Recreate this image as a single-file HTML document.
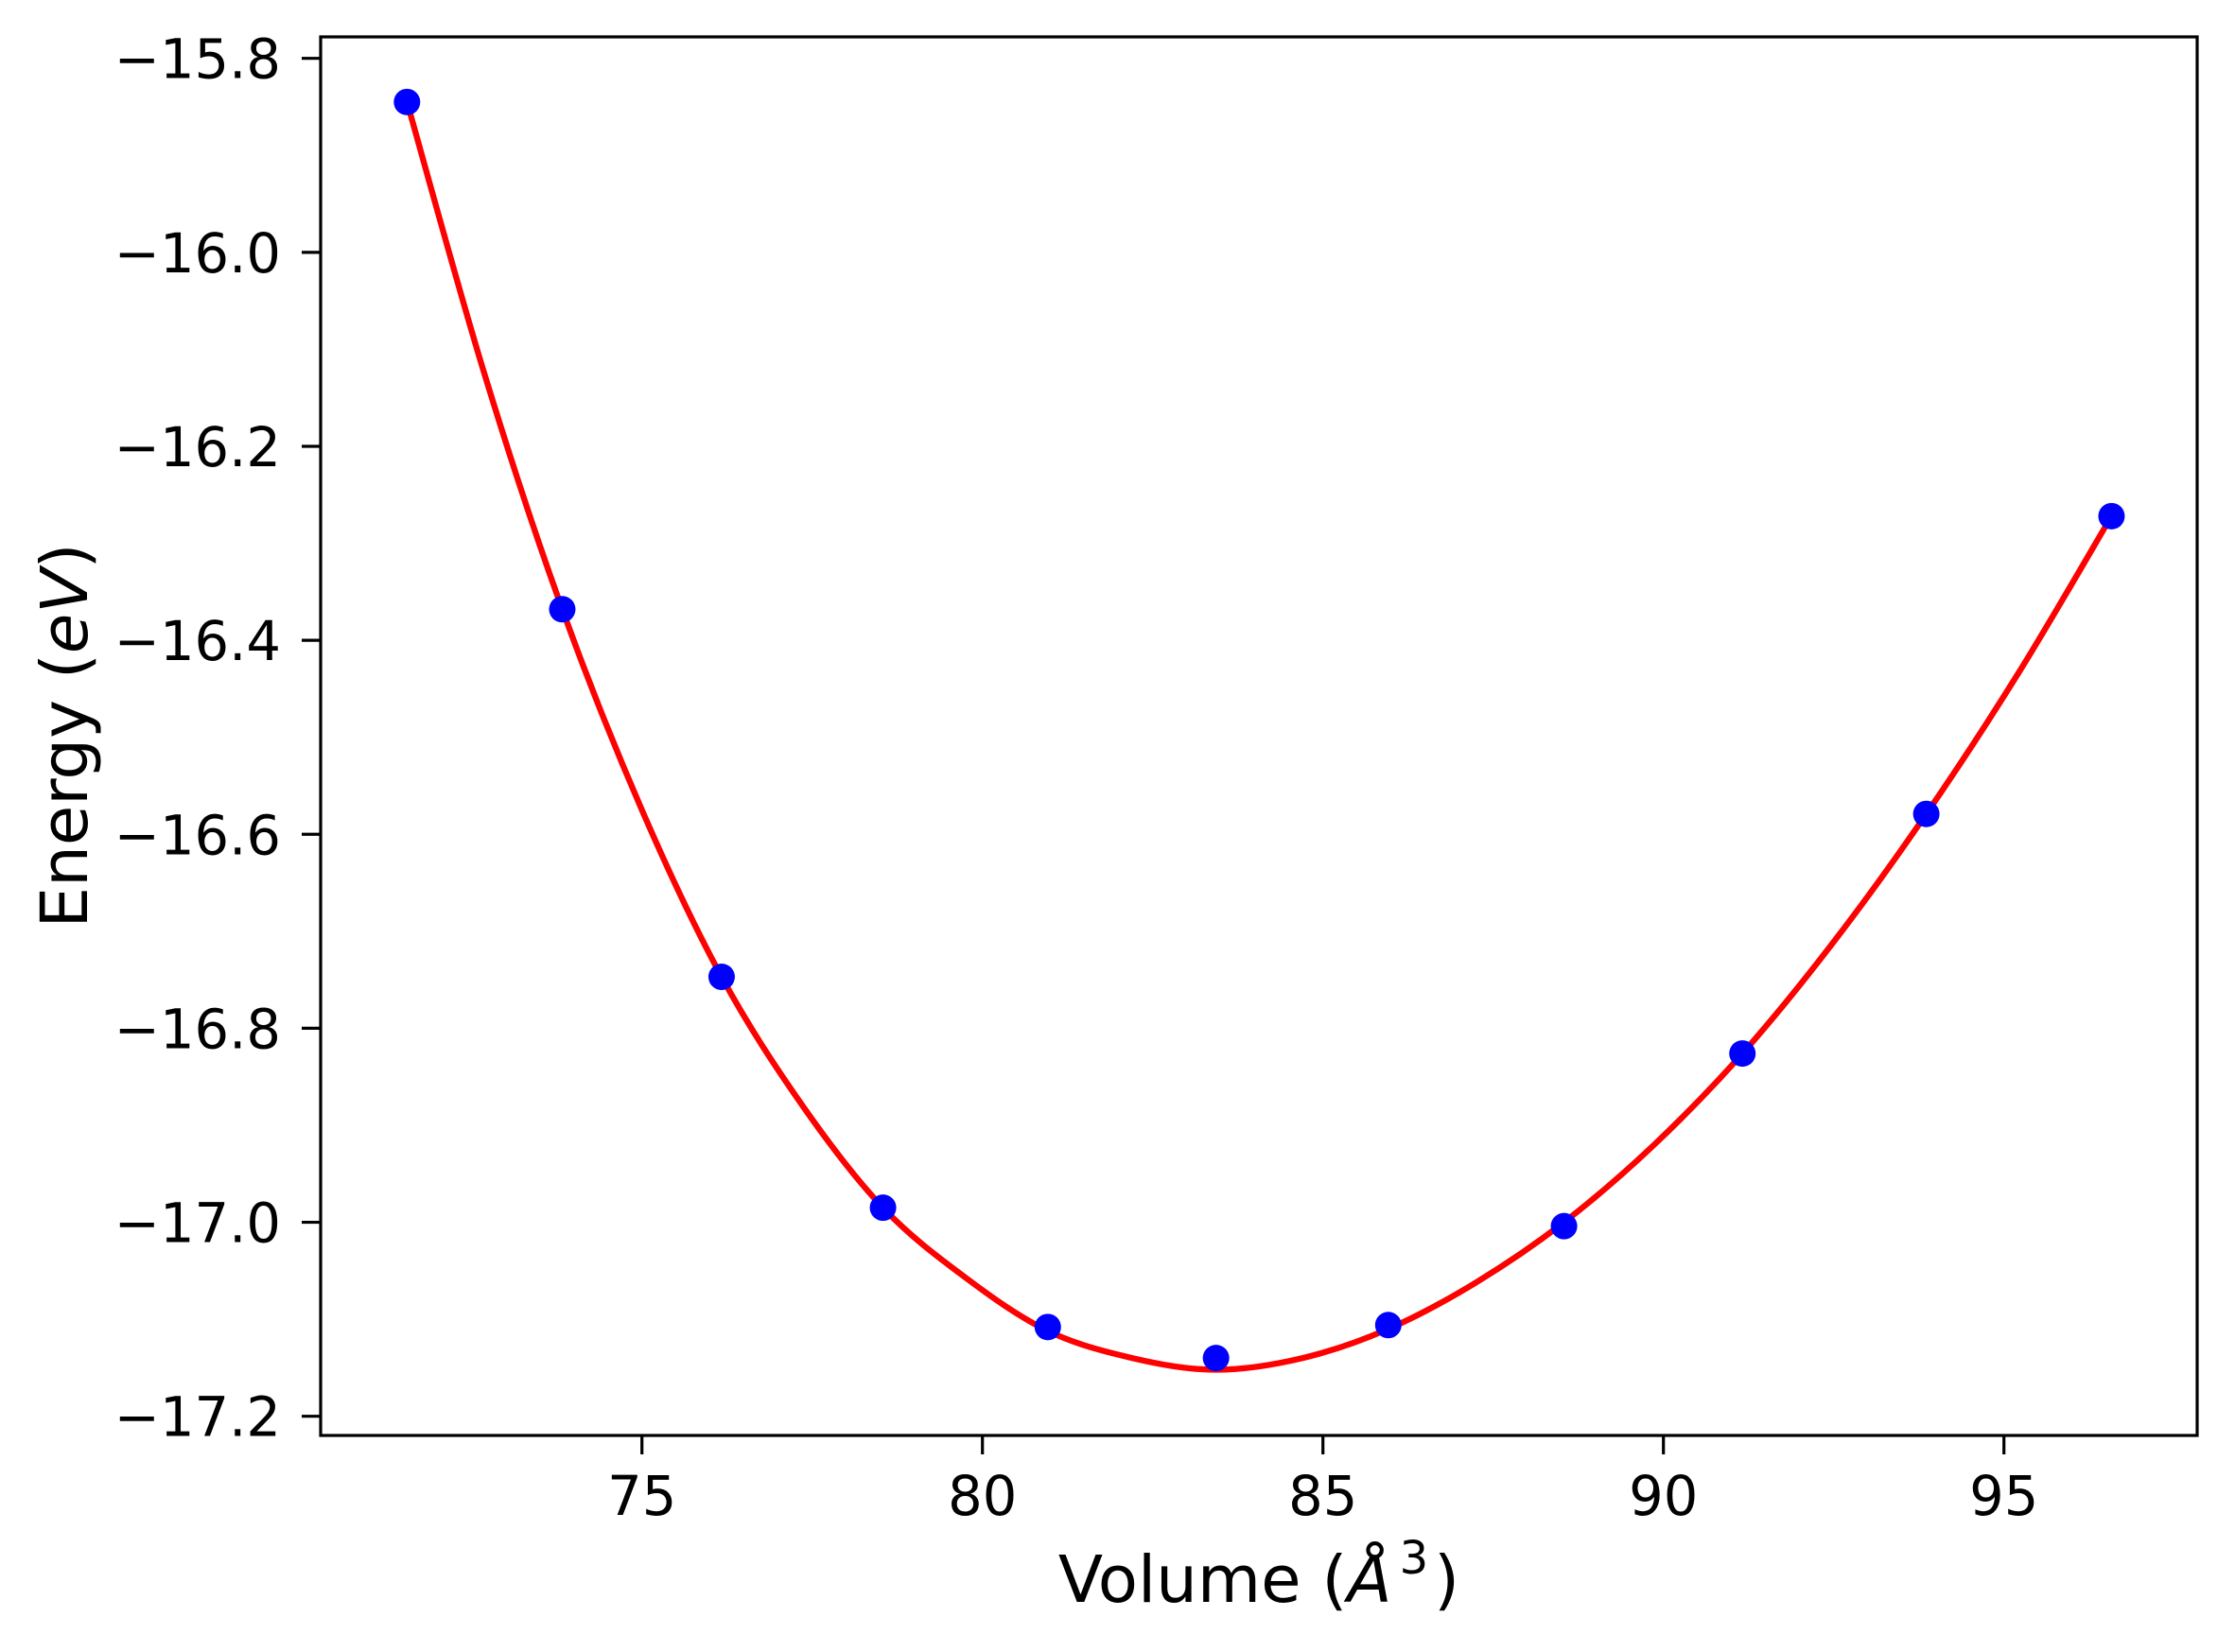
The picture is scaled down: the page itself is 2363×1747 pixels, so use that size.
<!DOCTYPE html>
<html><head><meta charset="utf-8"><style>
html,body{margin:0;padding:0;background:#fff;}
svg{display:block;font-family:"DejaVu Sans","Liberation Sans",sans-serif;}
</style></head><body>
<svg id="chart" width="2363" height="1747" viewBox="0 0 2363 1747" xmlns="http://www.w3.org/2000/svg">
<rect x="0" y="0" width="2363" height="1747" fill="#fff"/>
<g id="plot"></g>
</svg>
<script>
const volumes = [71.55, 73.83, 76.17, 78.54, 80.96, 83.43, 85.96, 88.54, 91.16, 93.86, 96.58];
const energies = [-15.845, -16.368, -16.747, -16.985, -17.108, -17.140, -17.106, -17.004, -16.826, -16.579, -16.272];
const fitVolumes = [71.55, 72.69, 73.83, 75.0, 76.17, 77.36, 78.54, 79.75, 80.96, 82.2, 83.43, 84.7, 85.96, 87.25, 88.54, 89.85, 91.16, 92.51, 93.86, 95.22, 96.58];
const fitEnergies = [-15.845, -16.126, -16.368, -16.575, -16.747, -16.880, -16.985, -17.057, -17.112, -17.140, -17.152, -17.140, -17.110, -17.062, -17.000, -16.921, -16.826, -16.710, -16.579, -16.433, -16.272];
const xTicks = [75, 80, 85, 90, 95];
const yTicks = [-15.8, -16.0, -16.2, -16.4, -16.6, -16.8, -17.0, -17.2];

const L = 339, R = 2323, T = 39, B = 1518;
function xs(v){ return 678.7 + (v - 75) * 72.0; }
function ys(e){ return 61.7 + (-15.8 - e) * 1025.7; }

const NS = "http://www.w3.org/2000/svg";
const g = document.getElementById('plot');
function mk(tag, attrs, parent){
  const el = document.createElementNS(NS, tag);
  for (const k in attrs) el.setAttribute(k, attrs[k]);
  (parent || g).appendChild(el);
  return el;
}

const pts = fitVolumes.map((v,i)=>[xs(v), ys(fitEnergies[i])]);
let d = "M" + pts[0][0] + "," + pts[0][1];
for (let i = 0; i < pts.length - 1; i++) {
  const p0 = pts[Math.max(0,i-1)], p1 = pts[i], p2 = pts[i+1], p3 = pts[Math.min(pts.length-1,i+2)];
  const c1x = p1[0] + (p2[0]-p0[0])/6, c1y = p1[1] + (p2[1]-p0[1])/6;
  const c2x = p2[0] - (p3[0]-p1[0])/6, c2y = p2[1] - (p3[1]-p1[1])/6;
  d += " C" + c1x + "," + c1y + " " + c2x + "," + c2y + " " + p2[0] + "," + p2[1];
}
const curve = mk('path', {d: d, fill: 'none', stroke: '#ff0000', 'stroke-width': 6.3, 'stroke-linejoin': 'round'});



volumes.forEach((v, i) => {
  const c = mk('circle', {cx: xs(v), cy: ys(energies[i]), r: 14, fill: '#0000ff'});
  
  
});

const frame = mk('rect', {x: L, y: T, width: R - L, height: B - T, fill: 'none', stroke: '#000', 'stroke-width': 3.2});



xTicks.forEach(t => {
  const x = xs(t);
  const tk = mk('line', {x1: x, y1: B, x2: x, y2: B + 20, stroke: '#000', 'stroke-width': 3.2});
  
  
  const lb = mk('text', {x: x, y: 1602, 'text-anchor': 'middle', 'font-size': 57.5, fill: '#000'});
  lb.textContent = String(t);
  
  
});

yTicks.forEach(t => {
  const y = ys(t);
  const tk = mk('line', {x1: L - 20, y1: y, x2: L, y2: y, stroke: '#000', 'stroke-width': 3.2});
  
  
  const lb = mk('text', {x: 297, y: y + 21, 'text-anchor': 'end', 'font-size': 57.5, fill: '#000'});
  lb.textContent = '\u2212' + Math.abs(t).toFixed(1);
  
  
});

const xt = mk('text', {x: 1331, y: 1694, 'text-anchor': 'middle', 'font-size': 69, fill: '#000'});


xt.innerHTML = 'Volume (<tspan font-style="italic">Å</tspan><tspan dx="8" dy="-30" font-size="48">3</tspan><tspan dx="6" dy="30">)</tspan>';

const yt = mk('text', {x: 0, y: 0, 'text-anchor': 'middle', 'font-size': 69, fill: '#000', transform: 'translate(92,778) rotate(-90)'});


yt.innerHTML = 'Energy (<tspan font-style="italic">eV</tspan>)';
</script>
</body></html>
